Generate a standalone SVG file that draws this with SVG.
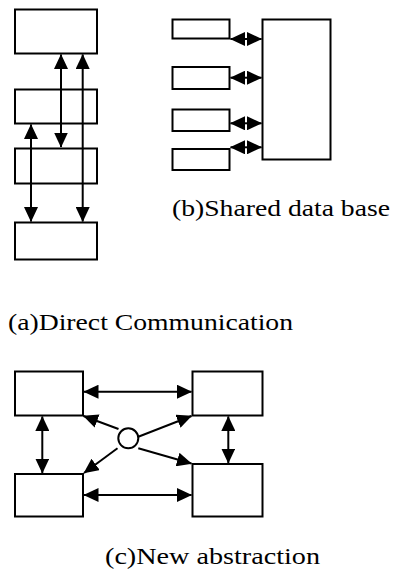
<svg xmlns="http://www.w3.org/2000/svg" width="397" height="572" viewBox="0 0 397 572">
<style>
.box{fill:#fff;stroke:#000;stroke-width:2}
.ln{fill:none;stroke:#000;stroke-width:2}
.dbl{marker-start:url(#ah);marker-end:url(#ah)}
.one{marker-end:url(#ah)}
.lbl{font-family:"Liberation Serif","Times New Roman",serif;font-size:24px;fill:#000}
</style>
<defs>
<marker id="ah" viewBox="0 0 15 14" refX="14.5" refY="7" markerWidth="15" markerHeight="14" markerUnits="userSpaceOnUse" orient="auto-start-reverse">
<path d="M0,0 L15,7 L0,14 z" fill="#000"/>
</marker>
</defs>
<rect width="397" height="572" fill="#fff"/>
<g id="a1"><rect class="box" x="15" y="9.5" width="82" height="44"/></g>
<g id="a2"><rect class="box" x="15" y="89.5" width="82" height="34"/></g>
<g id="a3"><rect class="box" x="15" y="148.5" width="82" height="35"/></g>
<g id="a4"><rect class="box" x="15" y="222.5" width="82" height="37"/></g>
<g id="b1"><rect class="box" x="172.5" y="19.5" width="57" height="19"/></g>
<g id="b2"><rect class="box" x="172.5" y="67" width="57" height="22"/></g>
<g id="b3"><rect class="box" x="172.5" y="109.5" width="57" height="21.5"/></g>
<g id="b4"><rect class="box" x="172.5" y="149" width="57" height="21"/></g>
<g id="bdb"><rect class="box" x="262.5" y="19.5" width="68" height="140"/></g>
<g id="c1"><rect class="box" x="15" y="371.5" width="68" height="44"/></g>
<g id="c2"><rect class="box" x="192.5" y="371.5" width="70" height="44"/></g>
<g id="c3"><rect class="box" x="15" y="474" width="68" height="42.5"/></g>
<g id="c4"><rect class="box" x="192.5" y="464" width="70" height="52.5"/></g>
<g id="hub"><circle class="box" cx="128.3" cy="438.3" r="10"/></g>
<g id="connectors">
<line class="ln dbl" x1="61" y1="54.5" x2="61" y2="147"/>
<line class="ln dbl" x1="82.7" y1="54.5" x2="82.7" y2="221.5"/>
<line class="ln dbl" x1="31" y1="124.5" x2="31" y2="221.5"/>
<line class="ln dbl" x1="230.5" y1="39" x2="261.5" y2="39"/>
<line class="ln dbl" x1="230.5" y1="77.7" x2="261.5" y2="77.7"/>
<line class="ln dbl" x1="230.5" y1="123.3" x2="261.5" y2="123.3"/>
<line class="ln dbl" x1="230.5" y1="147.3" x2="261.5" y2="147.3"/>
<line class="ln dbl" x1="84" y1="391.7" x2="191.5" y2="391.7"/>
<line class="ln dbl" x1="84" y1="495" x2="191.5" y2="495"/>
<line class="ln dbl" x1="42.3" y1="416.5" x2="42.3" y2="473"/>
<line class="ln dbl" x1="228.3" y1="416.5" x2="228.3" y2="463"/>
<line class="ln one" x1="118.5" y1="429" x2="83.5" y2="416"/>
<line class="ln one" x1="138.3" y1="436.7" x2="191.5" y2="416"/>
<line class="ln one" x1="117.5" y1="448.3" x2="84" y2="473"/>
<line class="ln one" x1="138.3" y1="448.3" x2="191.5" y2="463.5"/>
</g>
<text class="lbl" x="172" y="216" textLength="218" lengthAdjust="spacingAndGlyphs">(b)Shared data base</text>
<text class="lbl" x="8" y="330" textLength="285" lengthAdjust="spacingAndGlyphs">(a)Direct Communication</text>
<text class="lbl" x="105" y="564" textLength="215" lengthAdjust="spacingAndGlyphs">(c)New abstraction</text>
</svg>
